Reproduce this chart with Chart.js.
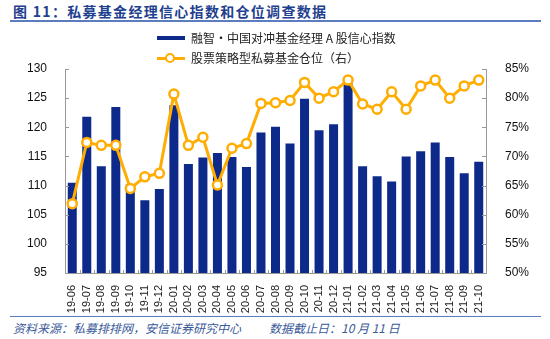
<!DOCTYPE html>
<html>
<head>
<meta charset="utf-8">
<script src="https://cdn.jsdelivr.net/npm/chart.js@4.4.0/dist/chart.umd.min.js"></script>
<style>
  body { margin: 0; background: #fff; width: 550px; height: 339px; position: relative; overflow: hidden;
         font-family: "Noto Sans CJK SC", "Liberation Sans", sans-serif; }
  #title { position: absolute; left: 13px; top: 1px; font-size: 14px; font-weight: bold; color: #1f3f8f;
           letter-spacing: 1.3px; white-space: nowrap; }
  #topline { position: absolute; left: 10px; top: 20px; width: 531px; height: 2px; background: #5b7dc0; }
  #box { position: absolute; left: 0; top: 26px; width: 550px; height: 288px; }
  #legend { position: absolute; left: 157px; top: 28px; font-size: 12px; color: #222; line-height: 20px; }
  .item { display: flex; align-items: center; height: 20px; }
  .bar { width: 28px; height: 4px; background: #0d2a8a; margin-right: 6px; }
  .ln { position: relative; width: 28px; height: 3px; background: #ffad00; margin-right: 6px; }
  .ln:after { content: ""; position: absolute; width: 6px; height: 6px; border-radius: 50%;
              background: #fff; border: 2px solid #ffad00; box-sizing: content-box; left: 8px; top: -3.5px; }
  #botline { position: absolute; left: 10px; top: 316px; width: 531px; height: 1px; background: #5b7dc0; }
  #foot { position: absolute; left: 13px; top: 319px; font-size: 12px; font-style: italic; color: #3a5a9a; white-space: nowrap; }
  #foot span { margin-left: 28px; }
</style>
</head>
<body>
<div id="title">图 11：私募基金经理信心指数和仓位调查数据</div>
<div id="topline"></div>
<div id="box"><canvas id="chart" width="550" height="288"></canvas></div>
<div id="legend">
  <div class="item"><span class="bar"></span>融智·中国对冲基金经理 A 股信心指数</div>
  <div class="item"><span class="ln"></span>股票策略型私募基金仓位（右）</div>
</div>
<div id="botline"></div>
<div id="foot">资料来源：私募排排网，安信证券研究中心<span>数据截止日：10 月 11 日</span></div>
<script>
var months = ['19-06', '19-07', '19-08', '19-09', '19-10', '19-11', '19-12',
  '20-01', '20-02', '20-03', '20-04', '20-05', '20-06', '20-07', '20-08', '20-09', '20-10', '20-11', '20-12',
  '21-01', '21-02', '21-03', '21-04', '21-05', '21-06', '21-07', '21-08', '21-09', '21-10'];

// 信心指数（左轴）
var xinxin = [110.5, 121.8, 113.3, 123.5, 110.2, 107.5, 109.4,
  123.8, 113.7, 114.8, 115.6, 114.9, 113.2, 119.1, 120.1, 117.2, 124.9, 119.5, 120.5,
  127.5, 113.3, 111.6, 110.7, 115.0, 115.9, 117.4, 114.9, 112.1, 114.1];

// 仓位 %（右轴）
var cangwei = [61.9, 72.4, 71.9, 71.9, 64.5, 66.5, 67.1,
  80.7, 71.9, 73.3, 65.1, 71.4, 72.2, 79.1, 79.2, 79.6, 82.7, 80.0, 81.1,
  83.1, 79.0, 78.1, 81.1, 78.1, 82.1, 83.1, 80.0, 82.1, 83.1];

var leftTicks = [95, 130, 5];
var rightTicks = [50, 85, 5];

// kleine streepjes naar binnen op de assen
var binnenTicks = {
  id: 'binnenTicks',
  afterDraw: function (c) {
    var ctx = c.ctx, a = c.chartArea;
    ctx.save();
    ctx.strokeStyle = '#999';
    ctx.lineWidth = 1;
    ctx.beginPath();
    c.scales.y.ticks.forEach(function (t) {
      var y = Math.round(c.scales.y.getPixelForValue(t.value)) + 0.5;
      ctx.moveTo(a.left, y); ctx.lineTo(a.left + 4, y);
    });
    c.scales.y2.ticks.forEach(function (t) {
      var y = Math.round(c.scales.y2.getPixelForValue(t.value)) + 0.5;
      ctx.moveTo(a.right, y); ctx.lineTo(a.right - 4, y);
    });
    var w = (a.right - a.left) / months.length;
    for (var i = 1; i < months.length; i++) {
      var x = Math.round(a.left + i * w) + 0.5;
      ctx.moveTo(x, a.bottom); ctx.lineTo(x, a.bottom - 3);
    }
    ctx.stroke();
    ctx.restore();
  }
};

var ctx = document.getElementById('chart').getContext('2d');
var chart = new Chart(ctx, {
  data: {
    labels: months,
    datasets: [{
      type: 'line',
      label: '股票策略型私募基金仓位（右）',
      data: cangwei,
      yAxisID: 'y2',
      borderColor: '#ffad00',
      borderWidth: 3,
      pointRadius: 4.5,
      pointBorderWidth: 2.5,
      pointBackgroundColor: '#fff',
      pointBorderColor: '#ffad00',
      tension: 0,
      order: 0
    }, {
      type: 'bar',
      label: '融智·中国对冲基金经理 A 股信心指数',
      data: xinxin,
      yAxisID: 'y',
      backgroundColor: '#0d2a8a',
      categoryPercentage: 1,
      barPercentage: 0.62,
      order: 1
    }]
  },
  plugins: [binnenTicks],
  options: {
    responsive: false,
    animation: false,
    layout: { padding: { top: 43, left: 0, right: 0, bottom: 0 } },
    plugins: { legend: { display: false }, tooltip: { enabled: false } },
    scales: {
      x: {
        grid: { display: false },
        border: { color: '#999' },
        ticks: { minRotation: 90, maxRotation: 90, autoSkip: false, padding: 4,
                 color: '#222', font: { family: 'Liberation Sans', size: 11 } },
        afterFit: function (s) { s.height = 41; }
      },
      y: {
        position: 'left',
        min: leftTicks[0], max: leftTicks[1],
        grid: { display: false },
        border: { color: '#999' },
        ticks: { stepSize: leftTicks[2], padding: 10, color: '#111', font: { family: 'Liberation Sans', size: 12 } },
        afterFit: function (s) { s.width = 65; }
      },
      y2: {
        position: 'right',
        min: rightTicks[0], max: rightTicks[1],
        grid: { display: false },
        border: { color: '#999' },
        ticks: { stepSize: rightTicks[2], padding: 11, color: '#111', font: { family: 'Liberation Sans', size: 12 },
                 callback: function (v) { return v + '%'; } },
        afterFit: function (s) { s.width = 64; }
      }
    }
  }
});
</script>
</body>
</html>
